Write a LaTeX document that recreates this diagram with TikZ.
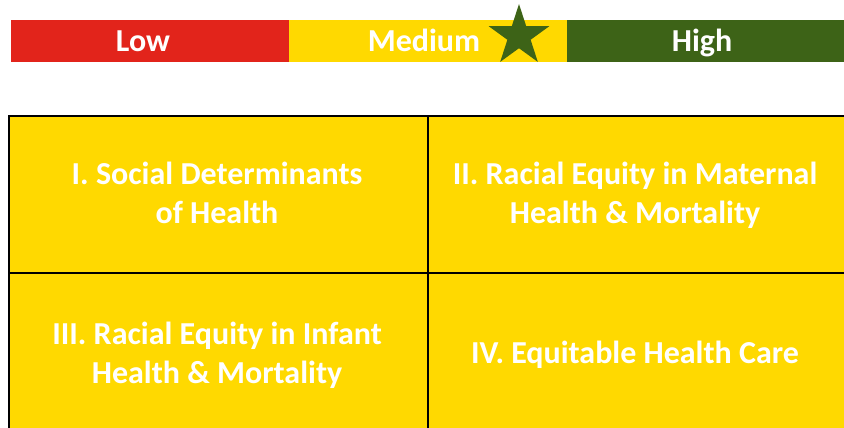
\documentclass[tikz,border=0pt]{standalone}
\usepackage{fontspec}
\setmainfont{Carlito}
\usetikzlibrary{shapes.geometric}
\definecolor{lowred}{HTML}{E2241B}
\definecolor{midyellow}{HTML}{FFD900}
\definecolor{highgreen}{HTML}{3D6317}
\tikzset{
  segment/.style={minimum width=278pt,minimum height=42pt,inner sep=0pt,anchor=north west},
  barlabel/.style={text=white,anchor=base,font=\bfseries\fontsize{32}{38}\selectfont},
  cell/.style={draw=black,line width=2pt,fill=midyellow,minimum width=419pt,minimum height=157pt,
    inner sep=0pt,anchor=north west},
  celltext/.style={text=white,align=center,anchor=base,inner sep=0pt,font=\bfseries\fontsize{32}{39}\selectfont}
}
\begin{document}
\begin{tikzpicture}[x=1pt,y=-1pt]
      \useasboundingbox (0,0) rectangle (844,428);
      \clip (0,0) rectangle (844,428);
      % rating bar
      \node[segment,fill=lowred] (low) at (11,20) {};
      \node[segment,fill=midyellow] (medium) at (289,20) {};
      \node[segment,fill=highgreen] (high) at (567,20) {};
      \node[barlabel] (lowtxt) at (143,52) {Low};
      \node[barlabel] (medtxt) at (424,52) {Medium};
      \node[barlabel] (hightxt) at (702,52) {High};
      \node[star,star points=5,star point ratio=2.618,minimum size=64pt,inner sep=0pt,
        fill=highgreen] (mark) at (519,36) {};
      % quadrants
      \node[cell] (q1) at (8,115) {};
      \node[cell] (q2) at (427,115) {};
      \node[cell] (q3) at (8,272) {};
      \node[cell] (q4) at (427,272) {};
      % text anchored at the baseline of its last line
      \node[celltext] (t1) at (217,223) {I. Social Determinants\\of Health};
      \node[celltext] (t2) at (635,223) {II. Racial Equity in Maternal\\Health \& Mortality};
      \node[celltext] (t3) at (217,383) {III. Racial Equity in Infant\\Health \& Mortality};
      \node[celltext] (t4) at (635,363) {IV. Equitable Health Care};
    \end{tikzpicture}
\end{document}
